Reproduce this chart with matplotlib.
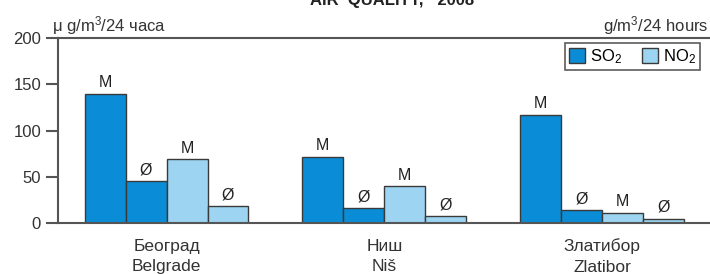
import matplotlib.pyplot as plt
from matplotlib.patches import Patch
import numpy as np

plt.rcParams['font.family'] = ['Liberation Sans', 'DejaVu Sans']
plt.rcParams['mathtext.default'] = 'regular'

# data
cities_sr = ['Београд', 'Ниш', 'Златибор']
cities_en = ['Belgrade', 'Niš', 'Zlatibor']
so2_max = [140, 72, 117]
so2_avg = [46, 16, 14]
no2_max = [69, 40, 11]
no2_avg = [19, 8, 5]
bar_marks = ['M', 'Ø', 'M', 'Ø']

c_so2 = '#0a8dd6'
c_no2 = '#9dd4f2'
edge = '#3a3a3a'
axc = '#555555'

fig = plt.figure(figsize=(7.1, 2.74), dpi=100)
ax = fig.add_axes([0.0813, 0.185, 0.920, 0.676])

x = np.arange(len(cities_sr))
w = 0.188
series = [(so2_max, c_so2), (so2_avg, c_so2), (no2_max, c_no2), (no2_avg, c_no2)]
for k, (vals, col) in enumerate(series):
    pos = x + (k - 1.5) * w
    bars = ax.bar(pos, vals, width=w, color=col, edgecolor=edge, linewidth=1.0, zorder=2)
    for b, v in zip(bars, vals):
        ax.text(b.get_x() + w / 2, v + 4, bar_marks[k], ha='center', va='bottom',
                fontsize=11.5, color='#222222')

ax.set_xlim(-0.5, 2.5)
ax.set_ylim(0, 200)
ax.set_yticks([0, 50, 100, 150, 200])
ax.tick_params(axis='y', length=9, width=1.5, color=axc, labelsize=12, labelcolor='#333333', pad=3)
ax.set_xticks(x)
ax.set_xticklabels([s + '\n' + e for s, e in zip(cities_sr, cities_en)], linespacing=1.45)
ax.tick_params(axis='x', length=0, labelsize=12.5, labelcolor='#333333', pad=11)

for side in ['left', 'top', 'bottom']:
    ax.spines[side].set_color(axc)
    ax.spines[side].set_linewidth(1.5)
ax.spines['right'].set_visible(False)

fig.text(51.7 / 710, 1 - 31.7 / 274, 'μ g/m$^3$/24 часа', ha='left', va='baseline',
         fontsize=12, color='#333333')
fig.text(708 / 710, 1 - 31.7 / 274, 'g/m$^3$/24 hours', ha='right', va='baseline',
         fontsize=12, color='#333333')
fig.text(392 / 710, 1 - 5 / 274, 'AIR  QUALITY,   2008', ha='center', va='baseline',
         fontsize=12, fontweight='bold', color='#222222')

handles = [Patch(facecolor=c_so2, edgecolor=edge, label='SO$_2$'),
           Patch(facecolor=c_no2, edgecolor=edge, label='NO$_2$')]
leg = ax.legend(handles=handles, loc='upper right', bbox_to_anchor=(0.983, 0.973),
                borderaxespad=0, ncol=2, fancybox=False, fontsize=12,
                handlelength=1.0, handleheight=1.0, handletextpad=0.25,
                columnspacing=1.2, borderpad=0.25)
leg.get_frame().set_edgecolor('#333333')
leg.get_frame().set_linewidth(1.2)

fig.savefig('out.png', dpi=100)
